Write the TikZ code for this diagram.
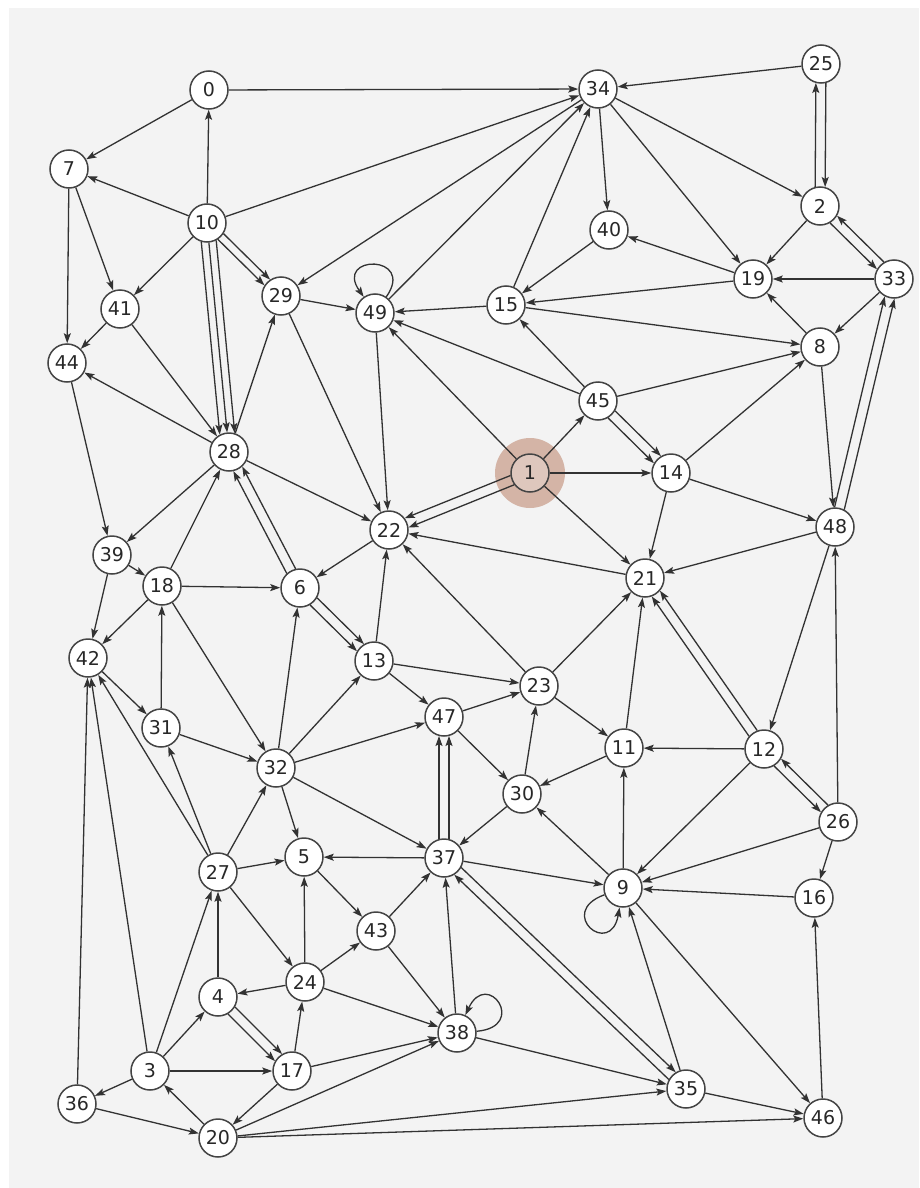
\documentclass[tikz,border=0pt]{standalone}
\usepackage{fontspec}
\setmainfont{DejaVu Sans}
\usetikzlibrary{calc,arrows.meta}
\definecolor{bgcol}{RGB}{243,243,243}
\definecolor{vborder}{RGB}{68,68,68}
\definecolor{ecol}{RGB}{50,50,50}
\definecolor{vtext}{RGB}{40,40,40}
\definecolor{halocol}{RGB}{212,180,166}
\definecolor{hinode}{RGB}{222,199,189}
\newcommand\offedge[4][pe]{\draw[#1] ($(#2)!#4!90:(#3)$) -- ($(#3)!#4!-90:(#2)$);}
\begin{document}
\begin{tikzpicture}[x=1pt,y=1pt,
  vtx/.style={circle,draw=vborder,line width=1.5pt,fill=white,minimum size=38pt,inner sep=0pt,text=vtext,font=\fontsize{19}{19}\selectfont},
  edge/.style={draw=ecol,line width=1.3pt,-{Stealth[length=10pt,width=7pt,inset=2pt]}},
  pe/.style={edge,shorten <=19pt,shorten >=19pt},
  pf/.style={edge,shorten <=19.3pt,shorten >=19.3pt},
  te/.style={edge,shorten <=18.2pt,shorten >=18.2pt},
  selfloop/.style={edge,min distance=52pt}]
\useasboundingbox (0,0) rectangle (919,-1188);
\fill[bgcol] (9,-8) rectangle (919,-1188);
\fill[halocol] (530,-473) circle (35pt);
% nodes
\node[vtx] (n0) at (209,-90) {0};
\node[vtx,fill=hinode] (n1) at (530,-473) {1};
\node[vtx] (n2) at (820,-206) {2};
\node[vtx] (n3) at (150,-1071) {3};
\node[vtx] (n4) at (218,-997) {4};
\node[vtx] (n5) at (304,-857) {5};
\node[vtx] (n6) at (300,-588) {6};
\node[vtx] (n7) at (69,-169) {7};
\node[vtx] (n8) at (820,-347) {8};
\node[vtx] (n9) at (623,-888) {9};
\node[vtx] (n10) at (207,-223) {10};
\node[vtx] (n11) at (624,-748) {11};
\node[vtx] (n12) at (764,-749) {12};
\node[vtx] (n13) at (374,-661) {13};
\node[vtx] (n14) at (671,-473) {14};
\node[vtx] (n15) at (506,-305) {15};
\node[vtx] (n16) at (814,-898) {16};
\node[vtx] (n17) at (292,-1071) {17};
\node[vtx] (n18) at (162,-586) {18};
\node[vtx] (n19) at (753,-279) {19};
\node[vtx] (n20) at (218,-1138) {20};
\node[vtx] (n21) at (645,-578) {21};
\node[vtx] (n22) at (389,-530) {22};
\node[vtx] (n23) at (539,-686) {23};
\node[vtx] (n24) at (305,-982) {24};
\node[vtx] (n25) at (821,-64) {25};
\node[vtx] (n26) at (838,-822) {26};
\node[vtx] (n27) at (218,-872) {27};
\node[vtx] (n28) at (229,-452) {28};
\node[vtx] (n29) at (281,-296) {29};
\node[vtx] (n30) at (522,-794) {30};
\node[vtx] (n31) at (161,-728) {31};
\node[vtx] (n32) at (276,-768) {32};
\node[vtx] (n33) at (894,-279) {33};
\node[vtx] (n34) at (598,-89) {34};
\node[vtx] (n35) at (686,-1089) {35};
\node[vtx] (n36) at (77,-1104) {36};
\node[vtx] (n37) at (444,-858) {37};
\node[vtx] (n38) at (457,-1033) {38};
\node[vtx] (n39) at (112,-555) {39};
\node[vtx] (n40) at (609,-230) {40};
\node[vtx] (n41) at (120,-309) {41};
\node[vtx] (n42) at (88,-658) {42};
\node[vtx] (n43) at (376,-931) {43};
\node[vtx] (n44) at (67,-363) {44};
\node[vtx] (n45) at (598,-401) {45};
\node[vtx] (n46) at (823,-1118) {46};
\node[vtx] (n47) at (444,-717) {47};
\node[vtx] (n48) at (835,-527) {48};
\node[vtx] (n49) at (375,-313) {49};
% single edges
\foreach \a/\b in {0/34, 0/7, 10/0, 10/7, 10/34, 10/41, 34/29, 7/41, 7/44, 41/44, 41/28, 28/44, 28/29, 28/39, 28/22, 18/28, 29/49, 29/22, 49/34, 49/22, 15/34, 15/49, 15/8, 40/15, 34/40, 34/19, 34/2, 25/34, 2/19, 33/19, 33/8, 8/19, 19/40, 19/15, 8/48, 45/15, 45/49, 45/8, 1/45, 1/49, 1/14, 1/21, 14/8, 14/48, 14/21, 48/21, 48/12, 21/22, 22/6, 13/22, 23/22, 18/6, 18/42, 18/32, 39/18, 39/42, 44/39, 31/18, 42/31, 31/32, 27/42, 27/31, 27/32, 27/5, 27/24, 3/42, 3/27, 3/4, 3/17, 3/36, 36/42, 20/3, 36/20, 17/20, 20/38, 20/35, 20/46, 24/4, 4/27, 17/24, 17/38, 24/5, 24/43, 24/38, 43/37, 5/43, 37/5, 32/5, 32/6, 32/13, 32/47, 32/37, 13/23, 13/47, 47/23, 47/30, 37/9, 38/37, 38/35, 30/37, 30/23, 23/21, 23/11, 11/21, 11/30, 12/11, 12/9, 26/48, 26/16, 26/9, 16/9, 9/11, 9/30, 9/46, 35/9, 35/46, 46/16, 43/38}
  \draw[edge] (n\a) -- (n\b);
% parallel edges
\offedge[pf]{n10}{n29}{4pt}
\offedge[pf]{n10}{n29}{-4pt}
\draw[edge] (n10) -- (n28);
\offedge[te]{n10}{n28}{7.5pt}
\offedge[te]{n10}{n28}{-7.5pt}
\foreach \a/\b in {6/28, 6/13, 1/22, 45/14, 48/33, 12/21, 37/47, 4/17}{
  \offedge{n\a}{n\b}{5pt}
  \offedge{n\a}{n\b}{-5pt}
}
\offedge{n2}{n25}{5pt}
\offedge{n25}{n2}{5pt}
\offedge{n2}{n33}{-5pt}
\offedge{n33}{n2}{-5pt}
\offedge{n12}{n26}{-5pt}
\offedge{n26}{n12}{-5pt}
\offedge{n37}{n35}{5pt}
\offedge{n35}{n37}{5pt}
% self loops
\draw[selfloop] (n49) to[out=55,in=125] (n49);
\draw[selfloop] (n38) to[out=5,in=65] (n38);
\draw[selfloop] (n9) to[out=200,in=260] (n9);
\end{tikzpicture}
\end{document}
